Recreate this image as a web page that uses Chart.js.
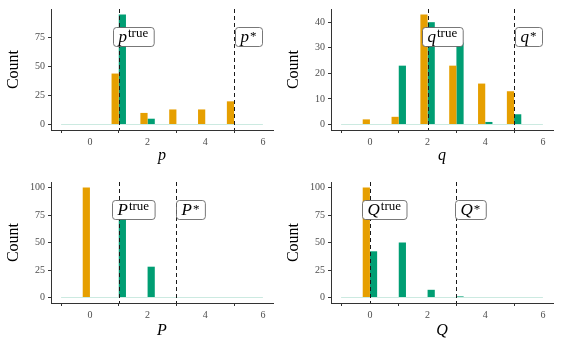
<!DOCTYPE html>
<html>
<head>
<meta charset="utf-8">
<script src="https://cdn.jsdelivr.net/npm/chart.js@4/dist/chart.umd.min.js"></script>
<style>
  body { margin: 0; background: #fff; }
  .panel { position: absolute; }
</style>
</head>
<body>
<div class="panel" style="left:0;top:0"><canvas id="c1" width="280" height="170"></canvas></div>
<div class="panel" style="left:280px;top:0"><canvas id="c2" width="281" height="170"></canvas></div>
<div class="panel" style="left:0;top:173px"><canvas id="c3" width="280" height="174"></canvas></div>
<div class="panel" style="left:280px;top:173px"><canvas id="c4" width="281" height="174"></canvas></div>
<script>
// values on the x axis (one bar pair per value)
const xValues = [-1, 0, 1, 2, 3, 4, 5, 6];
const xTicks = [0, 2, 4, 6];

// p
const pOrange = [0, 0, 44, 10, 13, 13, 20, 0];
const pGreen = [0, 0, 95, 5, 0, 0, 0, 0];
const pTicks = [0, 25, 50, 75];
const pLines = [1, 5];

// q
const qOrange = [0, 2, 3, 43, 23, 16, 13, 0];
const qGreen = [0, 0, 23, 40, 32, 1, 4, 0];
const qTicks = [0, 10, 20, 30, 40];
const qLines = [2, 5];

// P
const bigPOrange = [0, 100, 0, 0, 0, 0, 0, 0];
const bigPGreen = [0, 0, 72, 28, 0, 0, 0, 0];
const bigPTicks = [0, 25, 50, 75, 100];
const bigPLines = [1, 3];

// Q
const bigQOrange = [0, 100, 0, 0, 0, 0, 0, 0];
const bigQGreen = [0, 42, 50, 7, 1, 0, 0, 0];
const bigQTicks = [0, 25, 50, 75, 100];
const bigQLines = [0, 3];

const ORANGE = '#E69F00';
const GREEN = '#009E73';
const FONT = '"Liberation Serif", "Times New Roman", serif';

Chart.defaults.font.family = FONT;
Chart.defaults.animation = false;

// dashed reference lines with boxed labels
const refLabels = {
    id: 'refLabels',
    afterDatasetsDraw(chart, args, opts) {
        const {ctx, chartArea, scales: {x, y}} = chart;
        ctx.save();
        ctx.setLineDash([4, 3]);
        ctx.strokeStyle = '#1a1a1a';
        ctx.lineWidth = 1;
        opts.lines.forEach(l => {
            const px = Math.round(x.getPixelForValue(l.value)) + 0.5;
            ctx.beginPath();
            ctx.moveTo(px, chartArea.top);
            ctx.lineTo(px, chartArea.bottom);
            ctx.stroke();
        });
        ctx.setLineDash([]);
        opts.lines.forEach(l => {
            const cx = x.getPixelForValue(l.value + 0.5);
            const cy = y.getPixelForValue(opts.labelY);
            const mainFont = 'italic 17px ' + FONT;
            const supFont = '13px ' + FONT;
            ctx.font = mainFont;
            const wm = ctx.measureText(l.name).width;
            ctx.font = supFont;
            const ws = ctx.measureText(l.sup).width;
            const w = wm + ws + 12, h = 19;
            const bx = Math.round(cx - w / 2) + 0.5, by = Math.round(cy - h / 2) + 0.5;
            ctx.beginPath();
            ctx.roundRect(bx, by, w, h, 3);
            ctx.fillStyle = '#fff';
            ctx.fill();
            ctx.strokeStyle = '#555';
            ctx.lineWidth = 0.8;
            ctx.stroke();
            ctx.fillStyle = '#000';
            ctx.textBaseline = 'alphabetic';
            ctx.textAlign = 'left';
            ctx.font = mainFont;
            ctx.fillText(l.name, bx + 5, by + 14);
            ctx.font = supFont;
            ctx.fillText(l.sup, bx + 6 + wm, by + (l.sup === '*' ? 12 : 9.5));
        });
        ctx.restore();
    }
};

function makePanel(id, name, orange, green, yTicks, lines) {
    const maxCount = Math.max(...orange, ...green);
    const toPoints = vals => vals.map((v, i) => ({x: xValues[i], y: v}));
    new Chart(document.getElementById(id), {
        type: 'bar',
        data: {
            datasets: [{
                type: 'line',
                data: [{x: xValues[0], y: 0}, {x: xValues[xValues.length - 1], y: 0}],
                borderColor: 'rgba(170, 220, 205, 0.6)',
                borderWidth: 1,
                pointRadius: 0,
                order: 3
            }, {
                data: toPoints(orange),
                backgroundColor: ORANGE,
                categoryPercentage: 0.5,
                barPercentage: 1.0,
                order: 1
            }, {
                data: toPoints(green),
                backgroundColor: GREEN,
                categoryPercentage: 0.5,
                barPercentage: 1.0,
                order: 1
            }]
        },
        options: {
            responsive: false,
            layout: {padding: {top: 8, right: id === 'c2' || id === 'c4' ? 8 : 7, left: 0, bottom: 0}},
            plugins: {
                legend: {display: false},
                tooltip: {enabled: false},
                refLabels: {
                    labelY: 0.8 * maxCount,
                    lines: [
                        {value: lines[0], name: name, sup: 'true'},
                        {value: lines[1], name: name, sup: '*'}
                    ]
                }
            },
            scales: {
                x: {
                    type: 'linear',
                    offset: false,
                    min: -1.35,
                    max: 6.35,
                    afterBuildTicks: axis => { axis.ticks = xTicks.map(v => ({value: v})); },
                    afterFit: axis => { axis.height = id === 'c1' || id === 'c2' ? 40 : 44; },
                    grid: {drawOnChartArea: false, tickLength: 3, color: '#333'},
                    border: {color: '#333', width: 1},
                    ticks: {color: '#4D4D4D', font: {size: 10}, padding: 3, maxRotation: 0},
                    title: {
                        display: true, text: name, color: '#000',
                        font: {size: 16, style: 'italic'},
                        padding: {top: 0, bottom: id === 'c1' || id === 'c2' ? 5 : 7}
                    }
                },
                y: {
                    min: -0.05 * maxCount,
                    max: 1.05 * maxCount,
                    afterBuildTicks: axis => { axis.ticks = yTicks.map(v => ({value: v})); },
                    afterFit: axis => { axis.width = 51; },
                    grid: {drawOnChartArea: false, tickLength: 3, color: '#333'},
                    border: {color: '#333', width: 1},
                    ticks: {color: '#4D4D4D', font: {size: 10}, padding: 3},
                    title: {
                        display: true, text: 'Count', color: '#000',
                        font: {size: 16}, padding: {top: 4, bottom: 0}
                    }
                }
            }
        },
        plugins: [refLabels]
    });
}

makePanel('c1', 'p', pOrange, pGreen, pTicks, pLines);
makePanel('c2', 'q', qOrange, qGreen, qTicks, qLines);
makePanel('c3', 'P', bigPOrange, bigPGreen, bigPTicks, bigPLines);
makePanel('c4', 'Q', bigQOrange, bigQGreen, bigQTicks, bigQLines);
</script>
</body>
</html>
